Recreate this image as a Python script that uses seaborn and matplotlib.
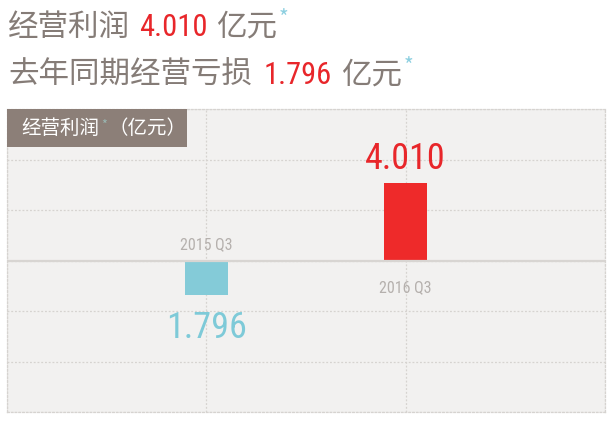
import matplotlib
matplotlib.use("Agg")
import matplotlib.pyplot as plt
import matplotlib.patches as mpatches
import numpy as np
import pandas as pd
import seaborn as sns
from matplotlib import font_manager

# 数据
periods = ["2015 Q3", "2016 Q3"]
profit = [-1.796, 4.010]
bar_colors = ["#84cbd8", "#ee2a2a"]
label_colors = ["#7ecad8", "#e8262a"]

GRAY_TXT = "#857c77"
RED = "#e8262a"
BLUE = "#8ccfe0"
CJK = ["Noto Sans CJK SC", "DejaVu Sans"]

# 数字用窄体字体
names = {f.name for f in font_manager.fontManager.ttflist}
NUM = [f for f in ["Liberation Sans Narrow", "Roboto Condensed", "DejaVu Sans"] if f in names]
NUM_KW = dict(family=NUM, fontstretch="condensed")

sns.set_theme(style="white")
plt.rcParams["font.family"] = CJK
plt.rcParams["axes.unicode_minus"] = False

df = pd.DataFrame({"period": periods, "profit": profit})

W, H = 614, 432
fig = plt.figure(figsize=(W / 100, H / 100), dpi=100)
ax = fig.add_axes([7 / W, 20 / H, 598 / W, 303 / H])
ax.set_facecolor("#f2f1f0")

sns.barplot(data=df, x="period", y="profit", hue="period", palette=bar_colors,
            order=periods, width=0.215, legend=False, ax=ax, saturation=1,
            linewidth=0)

ax.set_xlim(-1, 2)
ax.set_ylim(-7.8, 7.8)
ax.set_yticks(np.arange(-3, 4) * 2.6)
ax.set_xticks([-1, 0, 1, 2])
ax.grid(True, color="#d6d3d0", linestyle=(0, (1.5, 1.5)), linewidth=0.9)
ax.set_axisbelow(True)
ax.tick_params(left=False, bottom=False, labelleft=False, labelbottom=False)
ax.set_xlabel("")
ax.set_ylabel("")
for s in ax.spines.values():
    s.set_color("#d6d3d0")
    s.set_linestyle((0, (1.5, 1.5)))
    s.set_linewidth(0.9)
ax.axhline(0, color="#d8d5d2", linewidth=1.6, zorder=1)

# 数值与期间标签
for i, v in enumerate(profit):
    off = 9.5 if v > 0 else -31
    ax.annotate(f"{abs(v):.3f}", xy=(i, v), xytext=(0, off), textcoords="offset points",
                ha="center", va="baseline", fontsize=26, color=label_colors[i],
                **NUM_KW)
    off2 = 8.5 if v < 0 else -22.5
    ax.annotate(periods[i], xy=(i, 0), xytext=(0, off2), textcoords="offset points",
                ha="center", va="baseline", fontsize=11.5, color="#b5b0ad", **NUM_KW)

# 左上角标签框
ax.add_patch(mpatches.Rectangle((0, 1), 180 / 598, -38 / 303, transform=ax.transAxes,
                                facecolor="#8c7f78", edgecolor="none", zorder=5,
                                clip_on=False))

fig.canvas.draw()
renderer = fig.canvas.get_renderer()


def line(parts, x_px, base_px):
    # 逐段放置，保持同一基线
    x = x_px
    for s, col, kw, size, dy, gap in parts:
        x += gap
        t = fig.text(x / W, 1 - (base_px - dy) / H, s, color=col, fontsize=size,
                     ha="left", va="baseline", zorder=6, **kw)
        bb = t.get_window_extent(renderer)
        x = bb.x1


cjk = dict(family=CJK)
line([("经营利润", "white", cjk, 14, 0, 0),
      ("*", "#9ab8b4", cjk, 9, 5, 2),
      ("（亿元）", "white", cjk, 14, 0, 2)], 21, 134)

# 标题
line([("经营利润", GRAY_TXT, cjk, 22, 0, 0),
      (f"{profit[1]:.3f}", RED, NUM_KW, 22, 0, 9),
      ("亿元", GRAY_TXT, cjk, 22, 0, 9),
      ("*", BLUE, cjk, 15, 11, 1)], 8, 36)
line([("去年同期经营亏损", GRAY_TXT, cjk, 22, 0, 0),
      (f"{abs(profit[0]):.3f}", RED, NUM_KW, 22, 0, 12),
      ("亿元", GRAY_TXT, cjk, 22, 0, 9),
      ("*", BLUE, cjk, 15, 11, 1)], 8, 84)

fig.savefig("out.png", dpi=100, facecolor="white")
